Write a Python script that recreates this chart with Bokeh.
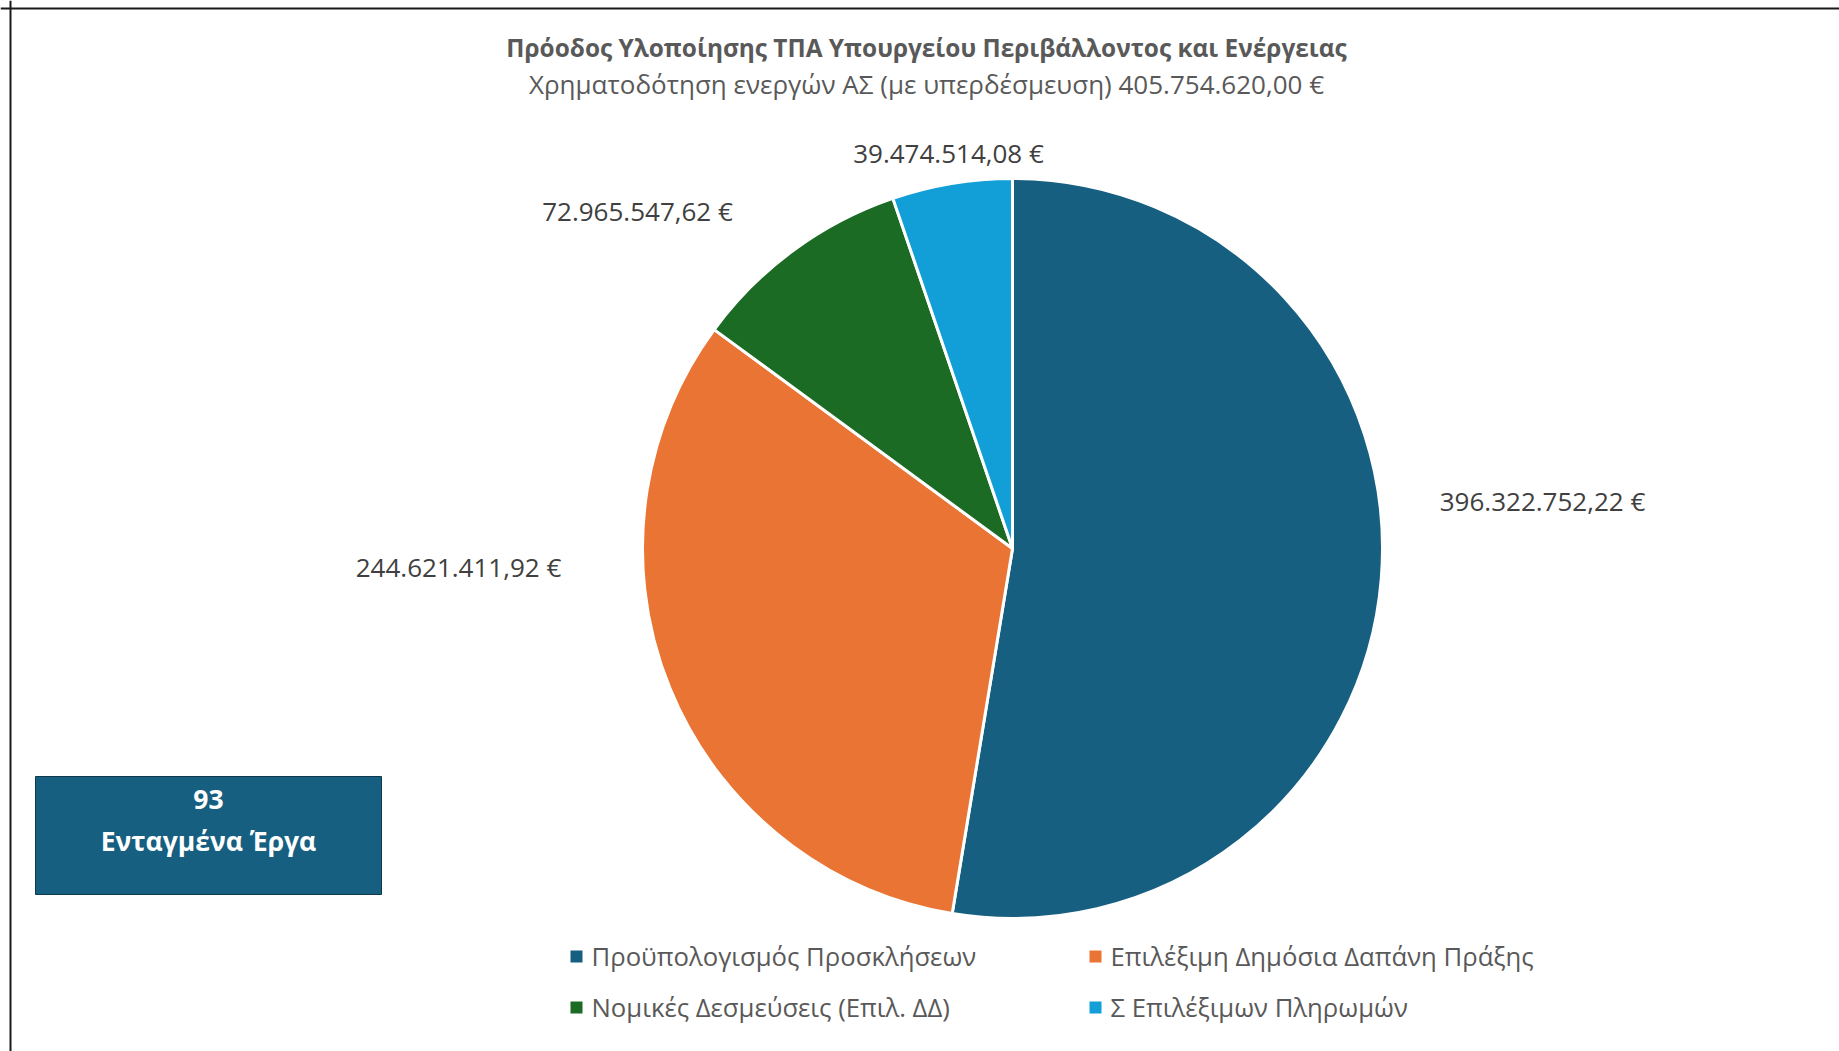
import math
from bokeh.plotting import figure
from bokeh.models import Range1d, ColumnDataSource, Span
from bokeh.core.properties import value
from bokeh.embed import file_html
from bokeh.resources import INLINE

# ---- data ----
title = "Πρόοδος Υλοποίησης ΤΠΑ Υπουργείου Περιβάλλοντος και Ενέργειας"
subtitle = "Χρηματοδότηση ενεργών ΑΣ (με υπερδέσμευση) 405.754.620,00 €"
categories = ["Προϋπολογισμός Προσκλήσεων", "Επιλέξιμη Δημόσια Δαπάνη Πράξης",
              "Νομικές Δεσμεύσεις (Επιλ. ΔΔ)", "Σ Επιλέξιμων Πληρωμών"]
values = [396322752.22, 244621411.92, 72965547.62, 39474514.08]
value_labels = ["396.322.752,22 €", "244.621.411,92 €", "72.965.547,62 €", "39.474.514,08 €"]
box_number = "93"
box_text = "Ενταγμένα Έργα"

# ---- style / layout ----
colors = ["#175F80", "#E97434", "#1B6B25", "#129FD7"]
W, H = 1839, 1051
FONT = "Open Sans"
TXT = "#404040"
cx, cy, r = 1012, 548, 370
label_pos = [(1542, 500), (458, 566), (637, 210), (948, 152)]

p = figure(width=W, height=H, output_backend="svg", toolbar_location=None,
           x_range=Range1d(0, W), y_range=Range1d(H, 0),
           min_border=0, outline_line_color=None)
p.axis.visible = False
p.grid.visible = False
p.background_fill_color = "white"
p.border_fill_color = "white"

# border lines (top and left)
p.add_layout(Span(location=8, dimension="width", line_color="#1a1a1a", line_width=2))
p.add_layout(Span(location=10, dimension="height", line_color="#1a1a1a", line_width=2))

# pie wedges: start at 12 o'clock, clockwise
total = sum(values)
starts, ends = [], []
acc = 0.0
for v in values:
    a0 = math.pi / 2 - 2 * math.pi * acc / total
    acc += v
    a1 = math.pi / 2 - 2 * math.pi * acc / total
    starts.append(a0)
    ends.append(a1)

src = ColumnDataSource(dict(start=starts, end=ends, color=colors, cat=categories))
p.wedge(x=cx, y=cy, radius=r, start_angle="start", end_angle="end",
        fill_color="color", line_color="white", line_width=3, source=src,
        direction="clock")

# value labels
p.text(x=[q[0] for q in label_pos], y=[q[1] for q in label_pos], text=value_labels,
       text_font=value(FONT), text_font_size="26px", text_color=TXT,
       text_align="center", text_baseline="middle")

# titles
p.text(x=[926], y=[47], text=[title], text_font=value(FONT), text_font_size="24.4px",
       text_font_style="bold", text_color="#595959", text_align="center", text_baseline="middle")
p.text(x=[926], y=[83], text=[subtitle], text_font=value(FONT), text_font_size="26px",
       text_color="#595959", text_align="center", text_baseline="middle")

# info box
p.quad(left=[35], right=[381], top=[776], bottom=[894], fill_color=colors[0],
       line_color="#0f3a4e", line_width=1)
p.text(x=[208], y=[799], text=[box_number], text_font=value(FONT), text_font_size="26.5px",
       text_font_style="bold", text_color="white", text_align="center", text_baseline="middle")
p.text(x=[208], y=[840], text=[box_text], text_font=value(FONT), text_font_size="26.5px",
       text_font_style="bold", text_color="white", text_align="center", text_baseline="middle")

# legend (manual, two columns)
leg_x = [576, 1095, 576, 1095]
leg_y = [956, 956, 1007, 1007]
p.rect(x=leg_x, y=leg_y, width=12, height=12, fill_color=colors, line_color=None)
p.text(x=[v + 15 for v in leg_x], y=leg_y, text=categories, text_font=value(FONT),
       text_font_size="25.7px", text_color="#595959", text_align="left", text_baseline="middle")

open("out.html", "w").write(file_html(p, INLINE))
